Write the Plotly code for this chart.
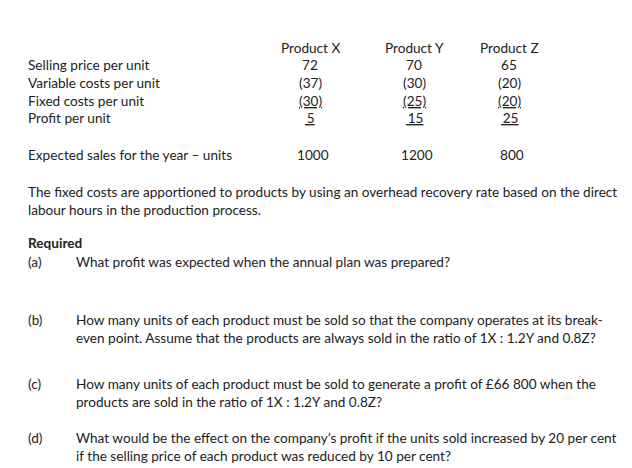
import plotly.graph_objects as go

# ---- data ----
products = ["Product X", "Product Y", "Product Z"]
row_labels = ["Selling price per unit", "Variable costs per unit",
              "Fixed costs per unit", "Profit per unit"]
selling = ["72", "70", "65"]
variable = ["(37)", "(30)", "(20)"]
fixed = ["(30)", "(25)", "(20)"]
profit = ["5", "15", "25"]
sales = ["1000", "1200", "800"]

FONT = dict(family="Lato, Open Sans, sans-serif", size=13.6, color="#222")
col_x = [310, 414, 509]

fig = go.Figure()
ann = []


def txt(x, y, s, anchor="left", bold=False):
    if bold:
        s = "<b>" + s + "</b>"
    ann.append(dict(x=x, y=y, xref="x", yref="y", text=s, showarrow=False,
                    xanchor=anchor, yanchor="middle", font=FONT))


txt(3, 14, "A company manufactures and sells three products and the details of these products are:-")
for cx, p in zip(col_x, products):
    txt(cx, 48, p, "center")

rows = [selling, variable, fixed, profit]
row_y = [65, 83, 101, 118]
for lab, vals, ry, i in zip(row_labels, rows, row_y, range(4)):
    txt(26, ry, lab)
    for cx, v in zip(col_x, vals):
        s = v if i < 2 else "<u>" + ("\u2009" + v if i == 3 else v) + "</u>"
        txt(cx, ry, s, "center")

txt(26, 155, "Expected sales for the year \u2013 units")
for cx, v in zip(col_x, sales):
    txt(cx + 3, 155, v, "center")

txt(26, 192, "The fixed costs are apportioned to products by using an overhead recovery rate based on the direct")
txt(26, 210, "labour hours in the production process.")
txt(26, 243, "Required", bold=True)
txt(26, 262, "(a)")
txt(74, 262, "What profit was expected when the annual plan was prepared?")
txt(26, 320, "(b)")
txt(74, 320, "How many units of each product must be sold so that the company operates at its break-")
txt(74, 338, "even point. Assume that the products are always sold in the ratio of 1X : 1.2Y and 0.8Z?")
txt(26, 384, "(c)")
txt(74, 384, "How many units of each product must be sold to generate a profit of \u00a366 800 when the")
txt(74, 402, "products are sold in the ratio of 1X : 1.2Y and 0.8Z?")
txt(26, 438, "(d)")
txt(74, 438, "What would be the effect on the company\u2019s profit if the units sold increased by 20 per cent")
txt(74, 456, "if the selling price of each product was reduced by 10 per cent?")

# page body adds an 8px offset, so shift the coordinate frame to compensate
fig.update_layout(
    width=632, height=468, margin=dict(l=0, r=0, t=0, b=0),
    paper_bgcolor="white", plot_bgcolor="white", annotations=ann,
    xaxis=dict(range=[8, 640], visible=False, fixedrange=True),
    yaxis=dict(range=[476, 8], visible=False, fixedrange=True),
    showlegend=False,
)
fig.write_html("out.html")
